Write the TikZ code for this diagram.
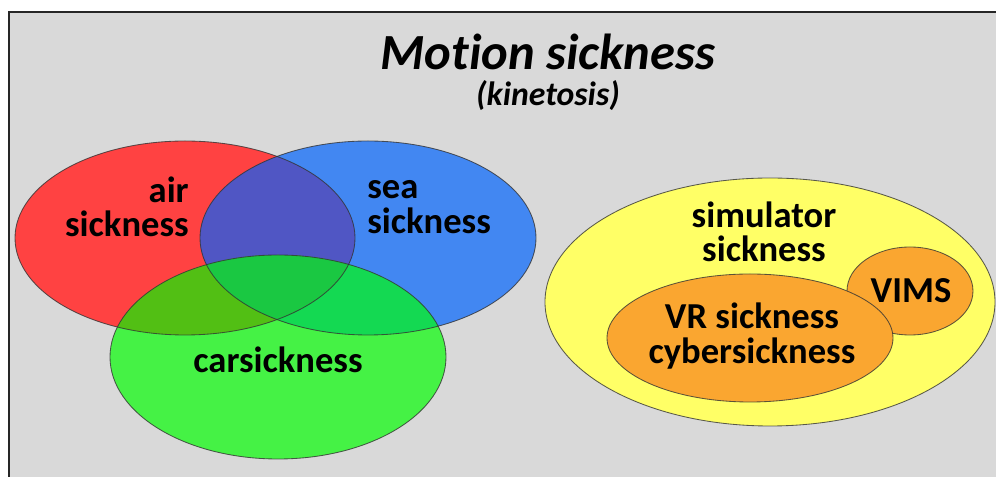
\documentclass[tikz,border=0pt]{standalone}
\usepackage{fontspec}
\setmainfont{Carlito}[Ligatures=NoCommon]
\usetikzlibrary{positioning}
\definecolor{framegray}{HTML}{D9D9D9}
\definecolor{airred}{HTML}{FF4242}
\definecolor{seablue}{HTML}{4287F2}
\definecolor{cargreen}{HTML}{45F245}
\definecolor{airsea}{HTML}{5056C4}
\definecolor{aircar}{HTML}{52BF14}
\definecolor{seacar}{HTML}{14D952}
\definecolor{allthree}{HTML}{1AC842}
\definecolor{simyellow}{HTML}{FFFF66}
\definecolor{vrorange}{HTML}{FAA630}

\begin{document}
\begin{tikzpicture}[x=0.025cm,y=-0.025cm,
    venntext/.style={font=\bfseries\fontsize{26}{24.5}\selectfont, inner sep=0pt},
    rim/.style={draw=black!80, line width=0.6pt, draw opacity=0.8}]
  \useasboundingbox (0,0) rectangle (996,477);
  % FRAME
  \fill[framegray] (9,12) rectangle (996,477);
  \draw[line width=1.6pt, black!85] (9,477) -- (9,12) -- (996,12);
  % TITLE
  \node[font=\bfseries\itshape\fontsize{36}{36}\selectfont, inner sep=0pt] (title) at (548,52) {Motion sickness};
  \node[font=\bfseries\itshape\fontsize{24}{24}\selectfont, inner sep=0pt] (kinetosis) at (548,96) {(kinetosis)};
  % LEFT GROUP
  % single sets
  \fill[airred] (185,238) ellipse [x radius=170, y radius=97];
  \fill[seablue] (368,238) ellipse [x radius=168, y radius=97];
  % red and blue
  \begin{scope}
    \clip (185,238) ellipse [x radius=170, y radius=97];
    \fill[airsea] (368,238) ellipse [x radius=168, y radius=97];
  \end{scope}
  \fill[cargreen] (278,357) ellipse [x radius=168, y radius=102];
  % green and red
  \begin{scope}
    \clip (278,357) ellipse [x radius=168, y radius=102];
    \fill[aircar] (185,238) ellipse [x radius=170, y radius=97];
  \end{scope}
  % green and blue
  \begin{scope}
    \clip (278,357) ellipse [x radius=168, y radius=102];
    \fill[seacar] (368,238) ellipse [x radius=168, y radius=97];
  \end{scope}
  % all three
  \begin{scope}
    \clip (278,357) ellipse [x radius=168, y radius=102];
    \clip (185,238) ellipse [x radius=170, y radius=97];
    \fill[allthree] (368,238) ellipse [x radius=168, y radius=97];
  \end{scope}
  % outlines
  \draw[rim] (185,238) ellipse [x radius=170, y radius=97];
  \draw[rim] (368,238) ellipse [x radius=168, y radius=97];
  \draw[rim] (278,357) ellipse [x radius=168, y radius=102];
  % RIGHT GROUP
  \filldraw[fill=simyellow, rim] (770,302) ellipse [x radius=225, y radius=124];
  \filldraw[fill=vrorange, rim] (910,291) ellipse [x radius=63, y radius=44];
  \filldraw[fill=vrorange, rim] (750,338) ellipse [x radius=143, y radius=64];
  % TEXTS
  \node[venntext, align=right, anchor=east] (air) at (189,207) {air\\sickness};
  \node[venntext, align=left, anchor=west] (sea) at (367,207) {sea\\sickness};
  \node[venntext] (car) at (278,360) {carsickness};
  \node[venntext, align=center] (simulator) at (764,232) {simulator\\sickness};
  \node[venntext, align=center] (vr) at (752,336) {VR sickness\\cybersickness};
  \node[venntext] (vims) at (911,291) {VIMS};
\end{tikzpicture}
\end{document}
